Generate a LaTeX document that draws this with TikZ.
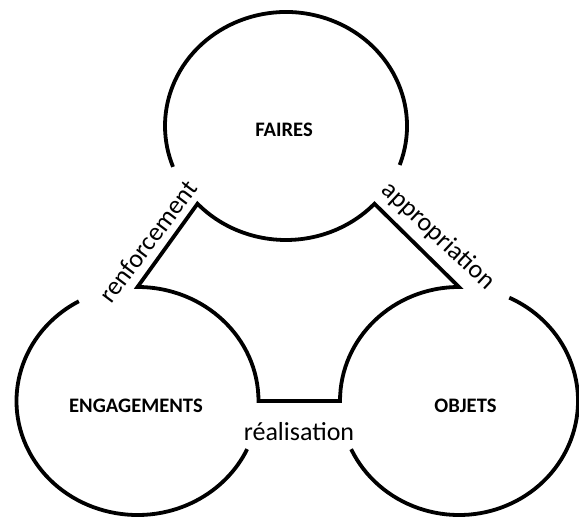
\documentclass[tikz,border=0pt]{standalone}
\usepackage{fontspec}
\setmainfont{Carlito}
\usetikzlibrary{calc}
\begin{document}
\begin{tikzpicture}[x=1pt,y=1pt,line width=3.8pt,line join=miter,
  lab/.style={font=\fontsize{26}{30}\selectfont,inner sep=0pt},
  ttl/.style={font=\bfseries\fontsize{20.6}{24}\selectfont,inner sep=0pt}]
\useasboundingbox (0,0) rectangle (579,520);
\coordinate (Tc) at (286,394);
\coordinate (Lc) at (137.5,119);
\coordinate (Rc) at (459,119);
\coordinate (tl) at ($(Tc)+(223:121 and 114)$);
\coordinate (tr) at ($(Tc)+(317:121 and 114)$);
\coordinate (lt) at ($(Lc)+(90:121 and 114)$);
\coordinate (lr) at ($(Lc)+(0:121 and 114)$);
\coordinate (rt) at ($(Rc)+(90:119 and 114)$);
\coordinate (rl) at ($(Rc)+(180:119 and 114)$);
% inner shape
\draw (lt) -- (tl) arc[start angle=223,end angle=317,x radius=121,y radius=114]
  -- (rt) arc[start angle=90,end angle=180,x radius=119,y radius=114]
  -- (lr) arc[start angle=0,end angle=90,x radius=121,y radius=114] -- cycle;
% outer arcs
\draw ($(Tc)+(-20:121 and 114)$) arc[start angle=-20,end angle=201,x radius=121,y radius=114];
\draw ($(Lc)+(119:121 and 114)$) arc[start angle=119,end angle=335,x radius=121,y radius=114];
\draw ($(Rc)+(-155:119 and 114)$) arc[start angle=-155,end angle=65,x radius=119,y radius=114];
% labels
\node[ttl] (faires) at (284,390) {FAIRES};
\node[ttl] (eng) at (136,114) {ENGAGEMENTS};
\node[ttl] (obj) at (465.5,114.5) {OBJETS};
\node[lab,rotate=53] (renf) at (148,278.5) {renforcement};
\node[lab,rotate=-43] (appr) at (438,284) {appropriation};
\node[lab,anchor=base] (real) at (299,79) {réalisation};
\end{tikzpicture}
\end{document}
